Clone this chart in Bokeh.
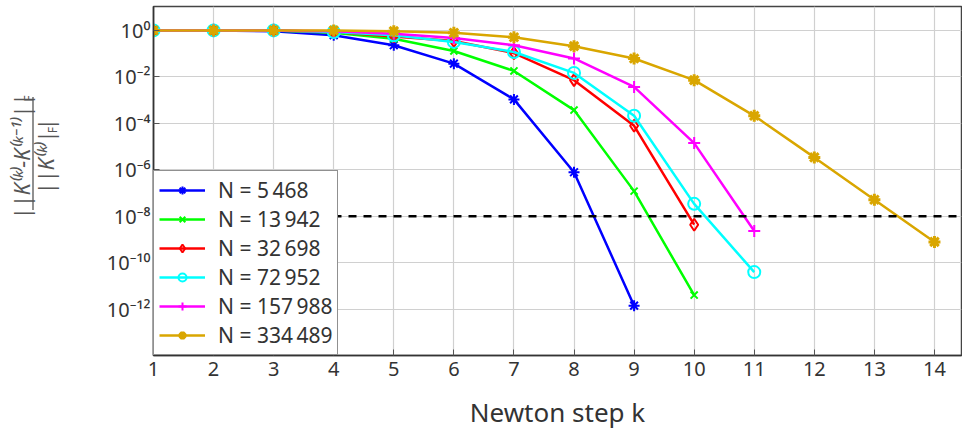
import math
from bokeh.plotting import figure
from bokeh.layouts import row
from bokeh.models import (Range1d, FixedTicker, CustomJSTickFormatter, Legend, LegendItem, Span)
from bokeh.core.properties import value
from bokeh.embed import file_html
from bokeh.resources import INLINE

# ---------------- data ----------------
steps = list(range(1, 15))
series_labels = ["N = 5\u2009468", "N = 13\u2009942", "N = 32\u2009698",
                 "N = 72\u2009952", "N = 157\u2009988", "N = 334\u2009489"]
res_5468   = [1.0, 1.0, 0.93, 0.62, 0.23, 3.7e-2, 1.07e-3, 7.8e-7, 1.4e-12]
res_13942  = [1.0, 1.0, 0.98, 0.79, 0.44, 0.13, 1.8e-2, 3.7e-4, 1.2e-7, 4.0e-12]
res_32698  = [1.0, 1.0, 1.0, 0.86, 0.55, 0.35, 0.105, 7.2e-3, 7.8e-5, 4.3e-9]
res_72952  = [1.0, 1.0, 1.0, 0.86, 0.62, 0.32, 0.118, 1.48e-2, 2.1e-4, 3.4e-8, 3.9e-11]
res_157988 = [1.0, 1.0, 1.0, 0.91, 0.72, 0.47, 0.23, 6.2e-2, 3.7e-3, 1.4e-5, 2.3e-9]
res_334489 = [1.0, 1.0, 1.0, 1.0, 0.93, 0.79, 0.51, 0.21, 6.2e-2, 7.2e-3, 2.1e-4,
              3.4e-6, 5.1e-8, 7.8e-10]
tolerance = 1e-8
y_ticks = [1e0, 1e-2, 1e-4, 1e-6, 1e-8, 1e-10, 1e-12]
ylabel_num = "||K\u207d\u1d4f\u207e\u2212K\u207d\u1d4f\u207b\u00b9\u207e||"
ylabel_den = "||K\u207d\u1d4f\u207e||"
ylabel_sub = "F"

all_series = [res_5468, res_13942, res_32698, res_72952, res_157988, res_334489]
colors = ["#0000ff", "#00ff00", "#ff0000", "#00ffff", "#ff00ff", "#d9a600"]
markers = ["asterisk", "x", "diamond", "circle", "cross", "asterisk"]
msizes = [11, 10, 12, 12, 12, 12]
mwidths = [2, 2, 2, 2, 2, 3]

FONT = "Noto Sans"
TXT = "#333333"
YL = "#555555"
H = 432
LW = 95

# ---------------- y-label panel (fraction) ----------------
q = figure(width=LW, height=H, x_range=Range1d(0, LW), y_range=Range1d(0, H),
           x_axis_type=None, y_axis_type=None, output_backend="svg",
           toolbar_location=None, min_border=0)
q.outline_line_color = None
q.grid.visible = False
q.text(x=[20], y=[H - 186], text=[ylabel_num], angle=math.pi / 2,
       text_align="center", text_baseline="middle", text_font=value(FONT),
       text_font_style="italic", text_font_size="22px", text_color=YL)
q.text(x=[28], y=[H - 114], text=[ylabel_sub], angle=math.pi / 2,
       text_align="center", text_baseline="middle", text_font=value(FONT),
       text_font_size="12px", text_color=YL)
q.text(x=[44], y=[H - 186], text=[ylabel_den], angle=math.pi / 2,
       text_align="center", text_baseline="middle", text_font=value(FONT),
       text_font_style="italic", text_font_size="22px", text_color=YL)
q.text(x=[52], y=[H - 153], text=[ylabel_sub], angle=math.pi / 2,
       text_align="center", text_baseline="middle", text_font=value(FONT),
       text_font_size="12px", text_color=YL)
q.segment(x0=[32.5], y0=[H - 112], x1=[32.5], y1=[H - 252], line_color=YL, line_width=1.3)

# ---------------- main plot ----------------
p = figure(width=962 - LW, height=H, y_axis_type="log",
           x_range=Range1d(1, 14.45), y_range=Range1d(1e-14, 10 ** 1.03),
           output_backend="svg", toolbar_location=None,
           min_border_left=153 - LW, min_border_right=1, min_border_top=6,
           min_border_bottom=75)
p.background_fill_color = "white"
p.outline_line_color = "#444444"
p.outline_line_width = 1.5

p.xaxis.ticker = FixedTicker(ticks=steps)
p.yaxis.ticker = FixedTicker(ticks=y_ticks)
p.yaxis.formatter = CustomJSTickFormatter(code="""
const sup = {'-':'\u207b','0':'\u2070','1':'\u00b9','2':'\u00b2','3':'\u00b3','4':'\u2074',
             '5':'\u2075','6':'\u2076','7':'\u2077','8':'\u2078','9':'\u2079'};
const e = Math.round(Math.log10(tick));
return '10' + String(e).split('').map(c => sup[c]).join('');
""")
for ax in (p.xaxis[0], p.yaxis[0]):
    ax.major_tick_in = 6
    ax.major_tick_out = 0
    ax.minor_tick_in = 0
    ax.minor_tick_out = 0
    ax.axis_line_color = "#333333"
    ax.axis_line_width = 1.5
    ax.major_tick_line_color = "#555555"
    ax.major_label_text_font = FONT
    ax.major_label_text_color = TXT
    ax.major_label_text_font_size = "20px"
    ax.major_label_text_line_height = 1.0
p.xaxis.major_label_standoff = 6
p.yaxis.major_label_standoff = 3
p.xaxis.axis_label = "Newton step k"
p.xaxis.axis_label_text_font = FONT
p.xaxis.axis_label_text_font_style = "normal"
p.xaxis.axis_label_text_font_size = "26px"
p.xaxis.axis_label_text_line_height = 1.0
p.xaxis.axis_label_text_color = TXT
p.xaxis.axis_label_standoff = 15

p.xgrid.grid_line_color = "#d0d0d0"
p.ygrid.grid_line_color = "#d0d0d0"
p.xgrid.grid_line_width = 1.2
p.ygrid.grid_line_width = 1.2

items = []
for vals, col, mk, ms, mw, lab in zip(all_series, colors, markers, msizes, mwidths, series_labels):
    xs = steps[:len(vals)]
    ln = p.line(xs, vals, line_color=col, line_width=2.5)
    sc = p.scatter(xs, vals, marker=mk, size=ms, line_color=col, line_width=mw,
                   fill_color=None)
    items.append(LegendItem(label=lab, renderers=[ln, sc]))

span = Span(location=tolerance, dimension="width", line_color="#000000",
            line_width=2.5, line_dash="8 7")
p.add_layout(span)

legend = Legend(items=items, location="bottom_left", margin=0, padding=5,
                spacing=1, glyph_width=46, glyph_height=20, label_height=20,
                label_standoff=13, label_text_font=FONT, label_text_font_size="21px",
                label_text_line_height=1.0,
                label_text_color=TXT, border_line_color="#222222", border_line_width=1.5,
                background_fill_color="white", background_fill_alpha=1.0)
p.add_layout(legend)

layout = row(q, p, spacing=0)
open("out.html", "w").write(file_html(layout, INLINE))
